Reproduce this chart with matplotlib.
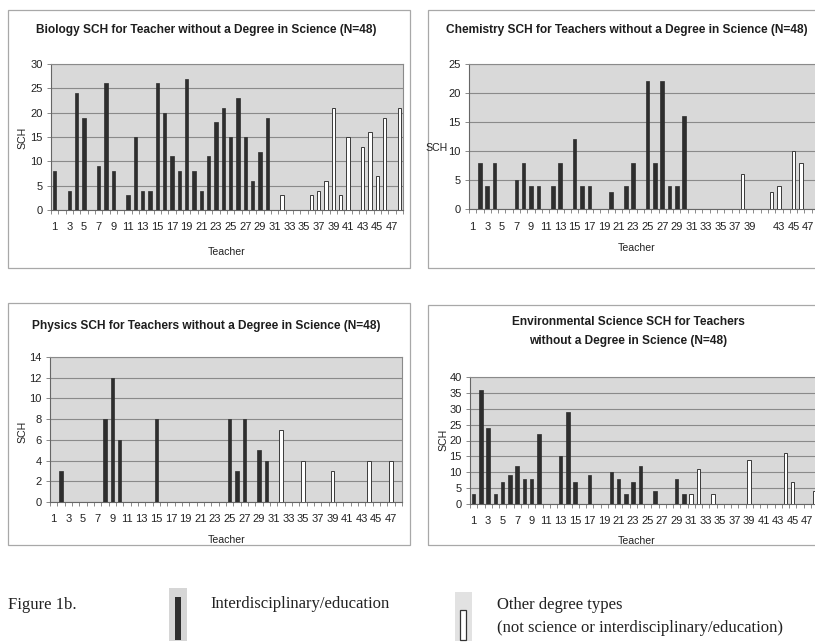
import numpy as np
import matplotlib
matplotlib.use("Agg")
import matplotlib.pyplot as plt
from matplotlib.patches import Rectangle

# teacher numbers: 1-30 interdisciplinary/education, 31-48 other degree types
teachers = np.arange(1, 49)
interdisc_ids = teachers[:30]
other_ids = teachers[30:]

bio_interdisc = [8, 0, 4, 24, 19, 0, 9, 26, 8, 0, 3, 15, 4, 4, 26, 20, 11, 8, 27, 8,
                 4, 11, 18, 21, 15, 23, 15, 6, 12, 19]
bio_other = [0, 3, 0, 0, 0, 3, 4, 6, 21, 3, 15, 0, 13, 16, 7, 19, 0, 21]

chem_interdisc = [0, 8, 4, 8, 0, 0, 5, 8, 4, 4, 0, 4, 8, 0, 12, 4, 4, 0, 0, 3,
                  0, 4, 8, 0, 22, 8, 22, 4, 4, 16]
chem_other = [0, 0, 0, 0, 0, 0, 0, 6, 0, 0, 0, 3, 4, 0, 10, 8, 0, 0]

phys_interdisc = [0, 3, 0, 0, 0, 0, 0, 8, 12, 6, 0, 0, 0, 0, 8, 0, 0, 0, 0, 0,
                  0, 0, 0, 0, 8, 3, 8, 0, 5, 4]
phys_other = [0, 7, 0, 0, 4, 0, 0, 0, 3, 0, 0, 0, 0, 4, 0, 0, 4, 0]

env_interdisc = [3, 36, 24, 3, 7, 9, 12, 8, 8, 22, 0, 0, 15, 29, 7, 0, 9, 0, 0, 10,
                 8, 3, 7, 12, 0, 4, 0, 0, 8, 3]
env_other = [3, 11, 0, 3, 0, 0, 0, 0, 14, 0, 0, 0, 0, 16, 7, 0, 0, 4]

tick_numbers = list(range(1, 48, 2))
tick_labels = [str(n) for n in tick_numbers]
chem_tick_labels = ["" if n == 41 else str(n) for n in tick_numbers]

W, H = 815, 642
fig = plt.figure(figsize=(W / 100, H / 100), dpi=100)
fig.patch.set_facecolor("white")

SANS = "Liberation Sans"
SERIF = "Liberation Serif"
DARK = "#2e2e2e"
GRID = "#8a8a8a"
PLOT_BG = "#d9d9d9"


def fx(x):
    return x / W


def fy(y):
    return 1 - y / H


def frame(x0, y0, x1, y1):
    fig.add_artist(Rectangle((fx(x0), fy(y1)), (x1 - x0) / W, (y1 - y0) / H,
                             transform=fig.transFigure, fill=False,
                             edgecolor="#a8a8a8", lw=0.9))


def panel(box, interdisc, other, ymax, ystep, labels):
    left, top, right, bottom = box
    ax = fig.add_axes([fx(left), fy(bottom), (right - left) / W, (bottom - top) / H])
    ax.set_facecolor(PLOT_BG)
    ax.bar(interdisc_ids, interdisc, width=0.48, color=DARK, edgecolor=DARK, lw=0.5, zorder=3)
    ax.bar(other_ids, other, width=0.48, color="white", edgecolor="#3a3a3a", lw=0.7, zorder=3)
    ax.set_xlim(0.5, 48.5)
    ax.set_ylim(0, ymax)
    ax.set_yticks(np.arange(0, ymax + 0.1, ystep))
    ax.grid(axis="y", color=GRID, lw=0.8, zorder=1)
    ax.set_xticks(tick_numbers)
    ax.set_xticklabels(labels)
    ax.set_xticks(np.arange(0.5, 49, 1), minor=True)
    ax.tick_params(axis="x", which="major", length=0, pad=9, labelsize=8,
                   labelcolor="#222222")
    ax.tick_params(axis="x", which="minor", length=3, color="#777777", width=0.6)
    ax.tick_params(axis="y", length=3, color="#777777", width=0.6, labelsize=8,
                   labelcolor="#222222", pad=3)
    for lab in ax.get_xticklabels() + ax.get_yticklabels():
        lab.set_fontfamily(SANS)
    for side in ["top", "right"]:
        ax.spines[side].set_color(GRID)
        ax.spines[side].set_linewidth(0.8)
    for side in ["left", "bottom"]:
        ax.spines[side].set_color("#666666")
        ax.spines[side].set_linewidth(0.8)
    return ax


def title(x, y, s):
    fig.text(fx(x), fy(y), s, ha="center", va="center", family=SANS,
             fontweight="bold", fontsize=8.6, color="#1e1e1e")


def label(x, y, s, rot=0):
    fig.text(fx(x), fy(y), s, ha="center", va="center", family=SANS,
             fontsize=7.6, color="#222222", rotation=rot)


# Biology
frame(8, 10, 410, 268)
panel((51, 64, 403, 210), bio_interdisc, bio_other, 30, 5, tick_labels)
title(206, 30, "Biology SCH for Teacher without a Degree in Science (N=48)")
label(227, 252, "Teacher")
label(22, 138, "SCH", rot=90)

# Chemistry
frame(428, 10, 830, 268)
panel((469, 64, 819, 209), chem_interdisc, chem_other, 25, 5, chem_tick_labels)
title(627, 30, "Chemistry SCH for Teachers without a Degree in Science (N=48)")
label(637, 248, "Teacher")
label(437, 148, "SCH")

# Physics
frame(8, 303, 410, 545)
panel((50, 357, 402, 502), phys_interdisc, phys_other, 14, 2, tick_labels)
title(206, 326, "Physics SCH for Teachers without a Degree in Science (N=48)")
label(227, 540, "Teacher")
label(22, 432, "SCH", rot=90)

# Environmental Science
frame(428, 305, 830, 545)
panel((470, 377, 818, 504), env_interdisc, env_other, 40, 5, tick_labels)
title(628, 322, "Environmental Science SCH for Teachers")
title(628, 341, "without a Degree in Science (N=48)")
label(637, 541, "Teacher")
label(443, 440, "SCH", rot=90)

# key below the panels
fig.text(fx(8), fy(605), "Figure 1b.", ha="left", va="center", family=SERIF,
         fontsize=12, color="#222222")

fig.add_artist(Rectangle((fx(169), fy(641)), 18 / W, 53 / H, transform=fig.transFigure,
                         facecolor="#d6d6d6", edgecolor="none"))
fig.add_artist(Rectangle((fx(175), fy(640)), 6 / W, 43 / H, transform=fig.transFigure,
                         facecolor=DARK, edgecolor="none"))
fig.text(fx(210), fy(604), "Interdisciplinary/education", ha="left", va="center",
         family=SERIF, fontsize=12, color="#222222")

fig.add_artist(Rectangle((fx(455), fy(641)), 17 / W, 49 / H, transform=fig.transFigure,
                         facecolor="#e2e2e2", edgecolor="none"))
fig.add_artist(Rectangle((fx(460), fy(640)), 6 / W, 30 / H, transform=fig.transFigure,
                         facecolor="white", edgecolor="#333333", lw=0.9))
fig.text(fx(497), fy(605), "Other degree types", ha="left", va="center",
         family=SERIF, fontsize=12, color="#222222")
fig.text(fx(497), fy(628), "(not science or interdisciplinary/education)", ha="left",
         va="center", family=SERIF, fontsize=12, color="#222222")

fig.savefig("out.png", dpi=100)
